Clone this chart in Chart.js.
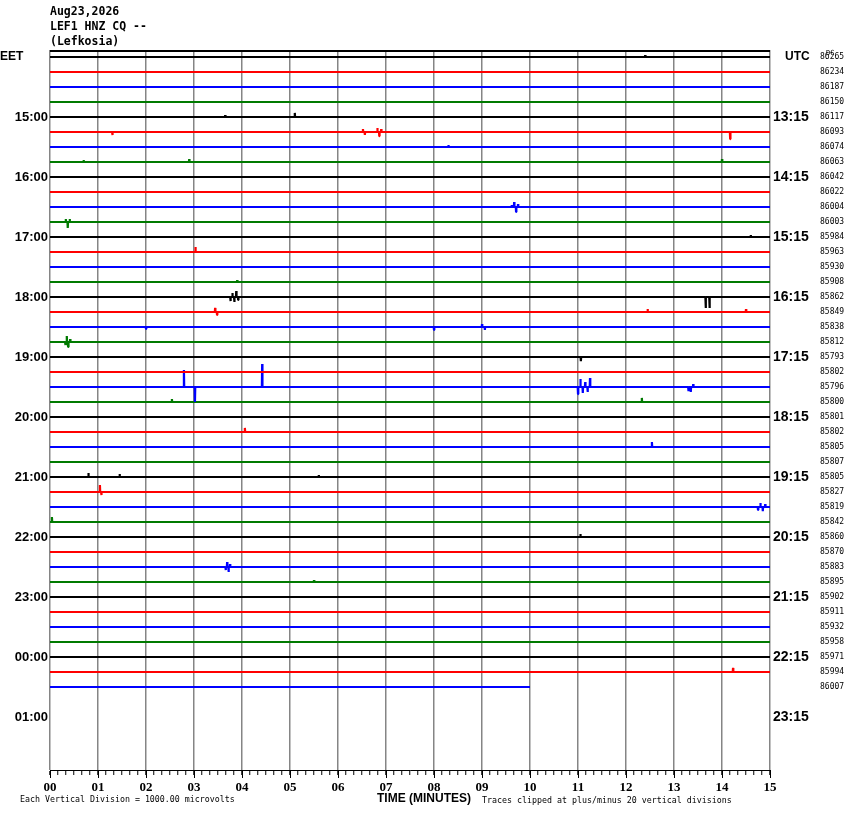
<!DOCTYPE html>
<html><head><meta charset="utf-8">
<script src="https://cdn.jsdelivr.net/npm/chart.js@4.4.1/dist/chart.umd.min.js"></script>
<style>html,body{margin:0;padding:0;background:#fff;}canvas{display:block;}</style>
</head><body>
<div style="width:850px;height:814px"><canvas id="c" width="850" height="814"></canvas></div>
<script>
// ---- data ----
const headerLines = ['Aug23,2026', 'LEF1 HNZ CQ --', '(Lefkosia)'];
const traceColors = ['#000000', '#ff0000', '#0000ff', '#007a00'];
const traceCount = 43;
const lastTraceEndMinute = 10;
const minuteTicks = [0,1,2,3,4,5,6,7,8,9,10,11,12,13,14,15];
const eetRows = [4, 8, 12, 16, 20, 24, 28, 32, 36, 40, 44];
const eetLabels = ['15:00','16:00','17:00','18:00','19:00','20:00','21:00','22:00','23:00','00:00','01:00'];
const utcLabels = ['13:15','14:15','15:15','16:15','17:15','18:15','19:15','20:15','21:15','22:15','23:15'];
const dcValues = [86265,86234,86187,86150,86117,86093,86074,86063,86042,86022,86004,86003,
  85984,85963,85930,85908,85862,85849,85838,85812,85793,85802,85796,85800,85801,85802,
  85805,85807,85805,85827,85819,85842,85860,85870,85883,85895,85902,85911,85932,85958,
  85971,85994,86007];
// events: [trace row, [[minute, amplitude in trace spacings (up +)], ...]]
const traceEvents = [
  [0,  [[12.40,0.13]]],
  [4,  [[3.65,0.13],[5.10,0.27]]],
  [5,  [[1.30,-0.2],[6.52,0.2],[6.56,-0.2],[6.82,0.27],[6.86,-0.27],[6.90,0.2],[14.17,-0.47]]],
  [6,  [[8.30,0.13]]],
  [7,  [[0.70,0.13],[2.90,0.2],[14.00,0.2]]],
  [10, [[9.62,0.13],[9.67,0.33],[9.71,-0.33],[9.75,0.2]]],
  [11, [[0.33,0.2],[0.37,-0.4],[0.41,0.2]]],
  [12, [[14.60,0.13]]],
  [13, [[3.03,0.33]]],
  [15, [[3.90,0.13]]],
  [16, [[3.76,-0.27],[3.80,0.27],[3.84,-0.33],[3.88,0.4],[3.92,-0.2],[13.66,-0.73],[13.74,-0.73]]],
  [17, [[3.44,0.27],[3.48,-0.2],[12.45,0.2],[14.50,0.2]]],
  [18, [[2.00,-0.13],[8.00,-0.2],[9.00,0.2],[9.06,-0.2]]],
  [19, [[0.32,-0.2],[0.35,0.4],[0.38,-0.33],[0.42,0.2]]],
  [20, [[11.06,-0.27]]],
  [22, [[2.79,1.13],[3.02,-1.0],[4.42,1.53],[11.00,-0.47],[11.05,0.53],[11.10,-0.4],
        [11.15,0.33],[11.20,-0.33],[11.25,0.6],[13.30,-0.27],[13.35,-0.33],[13.40,0.2]]],
  [23, [[2.54,0.2],[12.33,0.27]]],
  [25, [[4.06,0.27]]],
  [26, [[12.54,0.33]]],
  [28, [[0.80,0.27],[1.45,0.2],[5.60,0.13]]],
  [29, [[1.04,0.47],[1.07,-0.2]]],
  [30, [[14.75,-0.2],[14.80,0.27],[14.85,-0.27],[14.90,0.2]]],
  [31, [[0.04,0.33]]],
  [32, [[11.05,0.2]]],
  [34, [[3.66,-0.2],[3.69,0.33],[3.72,-0.33],[3.75,0.2]]],
  [35, [[5.50,0.13]]],
  [41, [[14.23,0.27]]]
];

// ---- build datasets ----
const eventMap = {};
traceEvents.forEach(([r, ev]) => { eventMap[r] = ev; });
const datasets = [];
for (let r = 0; r < traceCount; r++) {
  const end = (r === traceCount - 1) ? lastTraceEndMinute : 15;
  const pts = [{x: 0, y: r}];
  (eventMap[r] || []).slice().sort((a, b) => a[0] - b[0]).forEach(([m, a]) => {
    pts.push({x: m - 0.006, y: r});
    pts.push({x: m, y: r - a});
    pts.push({x: m + 0.006, y: r});
  });
  pts.push({x: end, y: r});
  datasets.push({
    data: pts, borderColor: traceColors[r % 4], borderWidth: 2.2,
    pointRadius: 0, tension: 0, fill: false, borderJoinStyle: 'bevel', borderCapStyle: 'butt'
  });
}

const SANS = "'Liberation Sans', Arial, sans-serif";
const MONO = "'DejaVu Sans Mono', monospace";

const decor = {
  id: 'decor',
  afterDraw(chart) {
    const ctx = chart.ctx, a = chart.chartArea;
    const xs = chart.scales.x, yl = chart.scales.y;
    ctx.save();
    // top border
    ctx.strokeStyle = '#000'; ctx.lineWidth = 2;
    ctx.beginPath(); ctx.moveTo(a.left, a.top + 1); ctx.lineTo(a.right, a.top + 1); ctx.stroke();
    // longer minute ticks
    ctx.lineWidth = 1;
    minuteTicks.forEach(m => {
      const px = Math.round(xs.getPixelForValue(m)) + 0.5;
      ctx.beginPath(); ctx.moveTo(px, a.bottom); ctx.lineTo(px, a.bottom + 8); ctx.stroke();
    });
    ctx.fillStyle = '#000';
    // header
    ctx.font = 'bold 11.5px ' + MONO; ctx.textAlign = 'left'; ctx.textBaseline = 'middle';
    headerLines.forEach((t, i) => ctx.fillText(t, a.left, 12 + i * 15));
    // row-0 labels
    const y0 = yl.getPixelForValue(0);
    ctx.font = 'bold 12px ' + SANS;
    ctx.fillText('EET', 0, y0);
    ctx.fillText('UTC', 785, y0);
    ctx.font = '7px ' + MONO;
    ctx.fillText('DC', 826, y0 - 4);
    // bottom texts
    ctx.font = 'bold 12px ' + SANS; ctx.textAlign = 'center';
    ctx.fillText('TIME (MINUTES)', 424, 799);
    ctx.font = '8.3px ' + MONO; ctx.textAlign = 'left';
    ctx.fillText('Each Vertical Division = 1000.00 microvolts', 20, 800);
    ctx.fillText('Traces clipped at plus/minus 20 vertical divisions', 482, 801);
    ctx.restore();
  }
};

const yRange = {min: -7 / 15, max: 713 / 15};
const hiddenGrid = { display: false, drawTicks: false, drawOnChartArea: false };

new Chart(document.getElementById('c'), {
  type: 'line',
  data: { datasets },
  options: {
    responsive: false, animation: false, devicePixelRatio: 1,
    layout: { padding: { top: 50, left: 0, right: 0, bottom: 0 } },
    plugins: { legend: { display: false }, tooltip: { enabled: false }, title: { display: false } },
    scales: {
      x: {
        type: 'linear', position: 'bottom', min: 0, max: 15,
        afterFit: s => { s.height = 44; },
        afterBuildTicks: s => { const t = []; for (let i = 0; i <= 90; i++) t.push({value: i / 6}); s.ticks = t; },
        grid: {
          color: c => (c.index % 6 === 0) ? '#858585' : 'rgba(0,0,0,0)',
          lineWidth: 1.5, tickColor: '#000', tickLength: 5, tickWidth: 1, drawOnChartArea: true
        },
        border: { display: true, color: '#000', width: 1 },
        ticks: {
          autoSkip: false, maxRotation: 0, padding: 5, color: '#000',
          font: { family: "'Liberation Serif', serif", weight: 'bold', size: 13 },
          callback: (v, i) => (i % 6 === 0) ? String(minuteTicks[i / 6]).padStart(2, '0') : ''
        }
      },
      y: {
        type: 'linear', position: 'left', reverse: true, ...yRange,
        afterFit: s => { s.width = 50; },
        afterBuildTicks: s => { s.ticks = eetRows.map(v => ({value: v})); },
        grid: hiddenGrid, border: { display: false },
        ticks: { autoSkip: false, padding: 2, color: '#000',
          font: { family: SANS, weight: 'bold', size: 13 },
          callback: (v, i) => eetLabels[i] }
      },
      yUtc: {
        type: 'linear', position: 'right', reverse: true, weight: 0, ...yRange,
        afterFit: s => { s.width = 48; },
        afterBuildTicks: s => { s.ticks = eetRows.map(v => ({value: v})); },
        grid: hiddenGrid, border: { display: false },
        ticks: { autoSkip: false, padding: 3, color: '#000',
          font: { family: SANS, weight: 'bold', size: 14 },
          callback: (v, i) => utcLabels[i] }
      },
      yDc: {
        type: 'linear', position: 'right', reverse: true, weight: 1, ...yRange,
        afterFit: s => { s.width = 32; },
        afterBuildTicks: s => { s.ticks = dcValues.map((d, i) => ({value: i})); },
        grid: hiddenGrid, border: { display: false },
        ticks: { autoSkip: false, padding: 2, color: '#000',
          font: { family: MONO, size: 8 },
          callback: (v, i) => String(dcValues[i]) }
      }
    }
  },
  plugins: [decor]
});
</script>
</body></html>
